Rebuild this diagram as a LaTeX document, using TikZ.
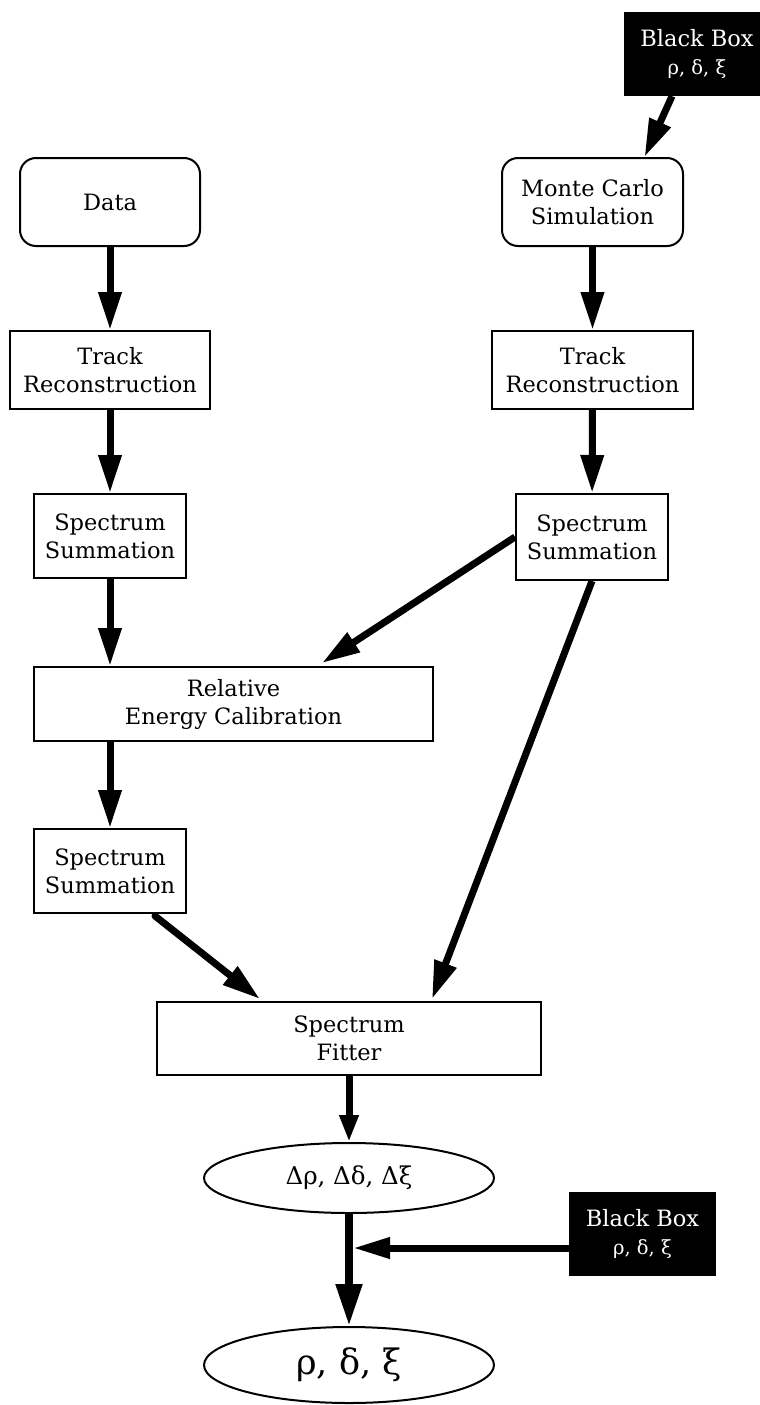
\documentclass[tikz,border=0pt]{standalone}
\usepackage{fontspec}
\setmainfont{DejaVu Serif}
\usetikzlibrary{arrows.meta,shapes.geometric,calc}
\begin{document}
\begin{tikzpicture}[x=1pt,y=-1pt,
  txt/.style={align=center,inner sep=0pt,font=\fontsize{22.5}{28}\selectfont},
  box/.style={txt,draw,line width=2pt,rectangle},
  rbox/.style={box,rounded corners=16pt},
  bbox/.style={txt,fill=black,text=white,rectangle},
  ell/.style={txt,draw,line width=2pt,ellipse},
  arr/.style={line width=7pt,-{Triangle[length=38pt,width=22pt]}},
  sarr/.style={line width=7pt,-{Triangle[length=27pt,width=18pt]}}
]
\useasboundingbox (0,0) rectangle (760,1405);
\fill[white] (0,0) rectangle (760,1405);
\begin{scope}
\clip (0,0) rectangle (760,1405);
\node[bbox,minimum width=146pt,minimum height=84pt] (bb1) at (697,54) {Black Box\\{\fontsize{19.5}{28}\selectfont ρ, δ, ξ}};
\end{scope}
\node[rbox,minimum width=180pt,minimum height=88pt] (data) at (110,202) {Data};
\node[rbox,minimum width=181pt,minimum height=88pt] (mc) at (592.5,202) {Monte Carlo\\Simulation};
\node[box,minimum width=200pt,minimum height=78pt] (tr1) at (110,370) {Track\\Reconstruction};
\node[box,minimum width=201pt,minimum height=78pt] (tr2) at (592.5,370) {Track\\Reconstruction};
\node[box,minimum width=152pt,minimum height=84pt] (ss1) at (110,536) {Spectrum\\Summation};
\node[box,minimum width=152pt,minimum height=86pt] (ss2) at (592,537) {Spectrum\\Summation};
\node[box,minimum width=399pt,minimum height=74pt] (rel) at (233.5,704) {Relative\\Energy Calibration};
\node[box,minimum width=152pt,minimum height=84pt] (ss3) at (110,871) {Spectrum\\Summation};
\node[box,minimum width=384pt,minimum height=73pt] (fit) at (349,1038.5) {Spectrum\\Fitter};
\node[ell,minimum width=290pt,minimum height=70pt,font=\fontsize{24.5}{28}\selectfont] (e1) at (349,1178) {Δρ, Δδ, Δξ};
\node[ell,minimum width=290pt,minimum height=76pt,font=\fontsize{35}{40}\selectfont] (e2) at (349,1365) {ρ, δ, ξ};
\node[bbox,minimum width=147pt,minimum height=84pt] (bb2) at (642.5,1234) {Black Box\\{\fontsize{19.5}{28}\selectfont ρ, δ, ξ}};

\coordinate (bbs) at ($(bb1.south)+(-25,0)$);
\coordinate (mct) at ($(mc.north)+(52,0)$);
\coordinate (relt) at ($(rel.north)+(88.5,-3)$);
\coordinate (fitr) at ($(fit.north)+(83,-2)$);
\coordinate (fitl) at ($(fit.north)+(-89,-2)$);
\coordinate (ss3b) at ($(ss3.south)+(45,2)$);
\coordinate (bb2w) at ($(bb2.west)+(0,14)$);
\coordinate (jn) at ($(e1.south)!(bb2w)!(e2.north)+(4,0)$);

\draw[arr] (bbs) -- (mct);
\draw[arr] (data) -- (tr1);
\draw[arr] (mc) -- (tr2);
\draw[arr] (tr1) -- (ss1);
\draw[arr] (tr2) -- (ss2);
\draw[arr] (ss1) -- (ss1 |- rel.north);
\draw[arr] (ss2.west) -- (relt);
\draw[arr] (rel.south -| ss1) -- (ss3);
\draw[arr] (ss2.south) -- (fitr);
\draw[arr,line cap=round] (ss3b) -- (fitl);
\draw[sarr] (fit) -- (e1);
\draw[line width=8pt,-{Triangle[length=42pt,width=25pt]}] (e1) -- (e2);
\draw[line width=7pt,-{Triangle[length=37pt,width=20pt]}] (bb2w) -- (jn);
\end{tikzpicture}
\end{document}
